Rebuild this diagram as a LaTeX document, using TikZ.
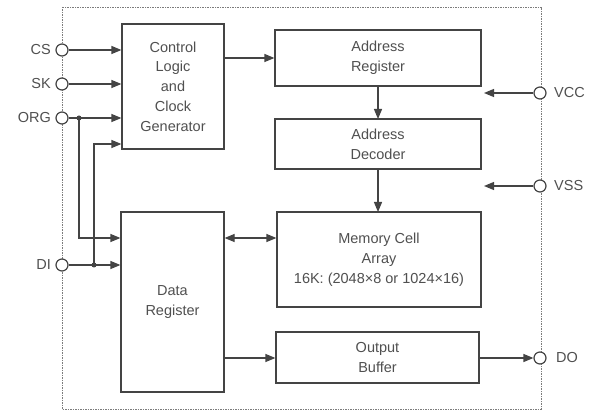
\documentclass[tikz,border=0pt]{standalone}
\usepackage{fontspec}
\setmainfont{Liberation Sans}
\usetikzlibrary{arrows.meta}
\definecolor{ln}{HTML}{444444}
\definecolor{tx}{HTML}{505050}
\begin{document}
\begin{tikzpicture}[x=1pt,y=-1pt,
  blk/.style={draw=ln,line width=1.2pt,inner sep=0pt,align=center,text=tx,font=\fontsize{14.5}{19.8}\selectfont},
  pin/.style={circle,draw=ln,line width=1.2pt,fill=white,minimum size=12pt,inner sep=0pt},
  lbl/.style={text=tx,font=\fontsize{14.5}{16}\selectfont,inner sep=0pt},
  wire/.style={draw=ln,line width=1.2pt},
  arr/.style={wire,-{Triangle[length=10pt,width=8pt]}},
  barr/.style={wire,{Triangle[length=10pt,width=8pt]}-{Triangle[length=10pt,width=8pt]}},
  dotn/.style={circle,fill=ln,minimum size=5pt,inner sep=0pt}]
\useasboundingbox (0,0) rectangle (592,414);
\fill[white] (0,0) rectangle (592,414);
\draw[ln!70,line width=0.8pt,dash pattern=on 1.5pt off 1pt] (62,7) rectangle (541,409);
% blocks
\node[blk,minimum width=102pt,minimum height=125pt] (ctl) at (173,86.5) {Control\\Logic\\and\\Clock\\Generator};
\node[blk,minimum width=206pt,minimum height=56pt] (areg) at (378,58) {Address\\Register};
\node[blk,minimum width=206pt,minimum height=50pt] (adec) at (378,144) {Address\\Decoder};
\node[blk,minimum width=204pt,minimum height=95pt] (mem) at (379,259.5) {Memory Cell\\Array\\16K: (2048×8 or 1024×16)};
\node[blk,minimum width=103pt,minimum height=180pt] (dreg) at (172.5,302) {Data\\Register};
\node[blk,minimum width=203pt,minimum height=51pt] (obuf) at (377.5,357.5) {Output\\Buffer};
% pins
\node[pin] (cs) at (62,50) {};
\node[pin] (sk) at (62,84) {};
\node[pin] (org) at (62,118) {};
\node[pin] (di) at (62,265) {};
\node[pin] (vcc) at (540,93) {};
\node[pin] (vss) at (540,186) {};
\node[pin] (do) at (540,358) {};
\node[lbl,anchor=east] at (51,50) {CS};
\node[lbl,anchor=east] at (51,84) {SK};
\node[lbl,anchor=east] at (51,118) {ORG};
\node[lbl,anchor=east] at (51,265) {DI};
\node[lbl,anchor=west] at (554,93) {VCC};
\node[lbl,anchor=west] at (554,186) {VSS};
\node[lbl,anchor=west] at (556,358) {DO};
% junctions
\node[dotn] (jorg) at (79,118) {};
\node[dotn] (jdi) at (94,265) {};
\coordinate (cvcc) at (484,93);
\coordinate (cvss) at (484,186);
% wires
\draw[arr] (cs) -- (cs -| ctl.west);
\draw[arr] (sk) -- (sk -| ctl.west);
\draw[arr] (org) -- (org -| ctl.west);
\draw[arr] (jdi.center) -- (94,144) -- (ctl.west |- 0,144);
\draw[arr] (jorg.center) -- (79,238) -- (dreg.west |- 0,238);
\draw[arr] (di) -- (di -| dreg.west);
\draw[arr] (ctl.east |- 0,58) -- (areg.west |- 0,58);
\draw[arr] (378,86) -- (378,119);
\draw[arr] (378,169) -- (378,212);
\draw[barr] (dreg.east |- 0,238) -- (mem.west |- 0,238);
\draw[arr] (dreg.east |- 0,358) -- (obuf.west |- 0,358);
\draw[arr] (obuf.east |- 0,358) -- (do);
\draw[arr] (vcc) -- (cvcc);
\draw[arr] (vss) -- (cvss);
\end{tikzpicture}
\end{document}
